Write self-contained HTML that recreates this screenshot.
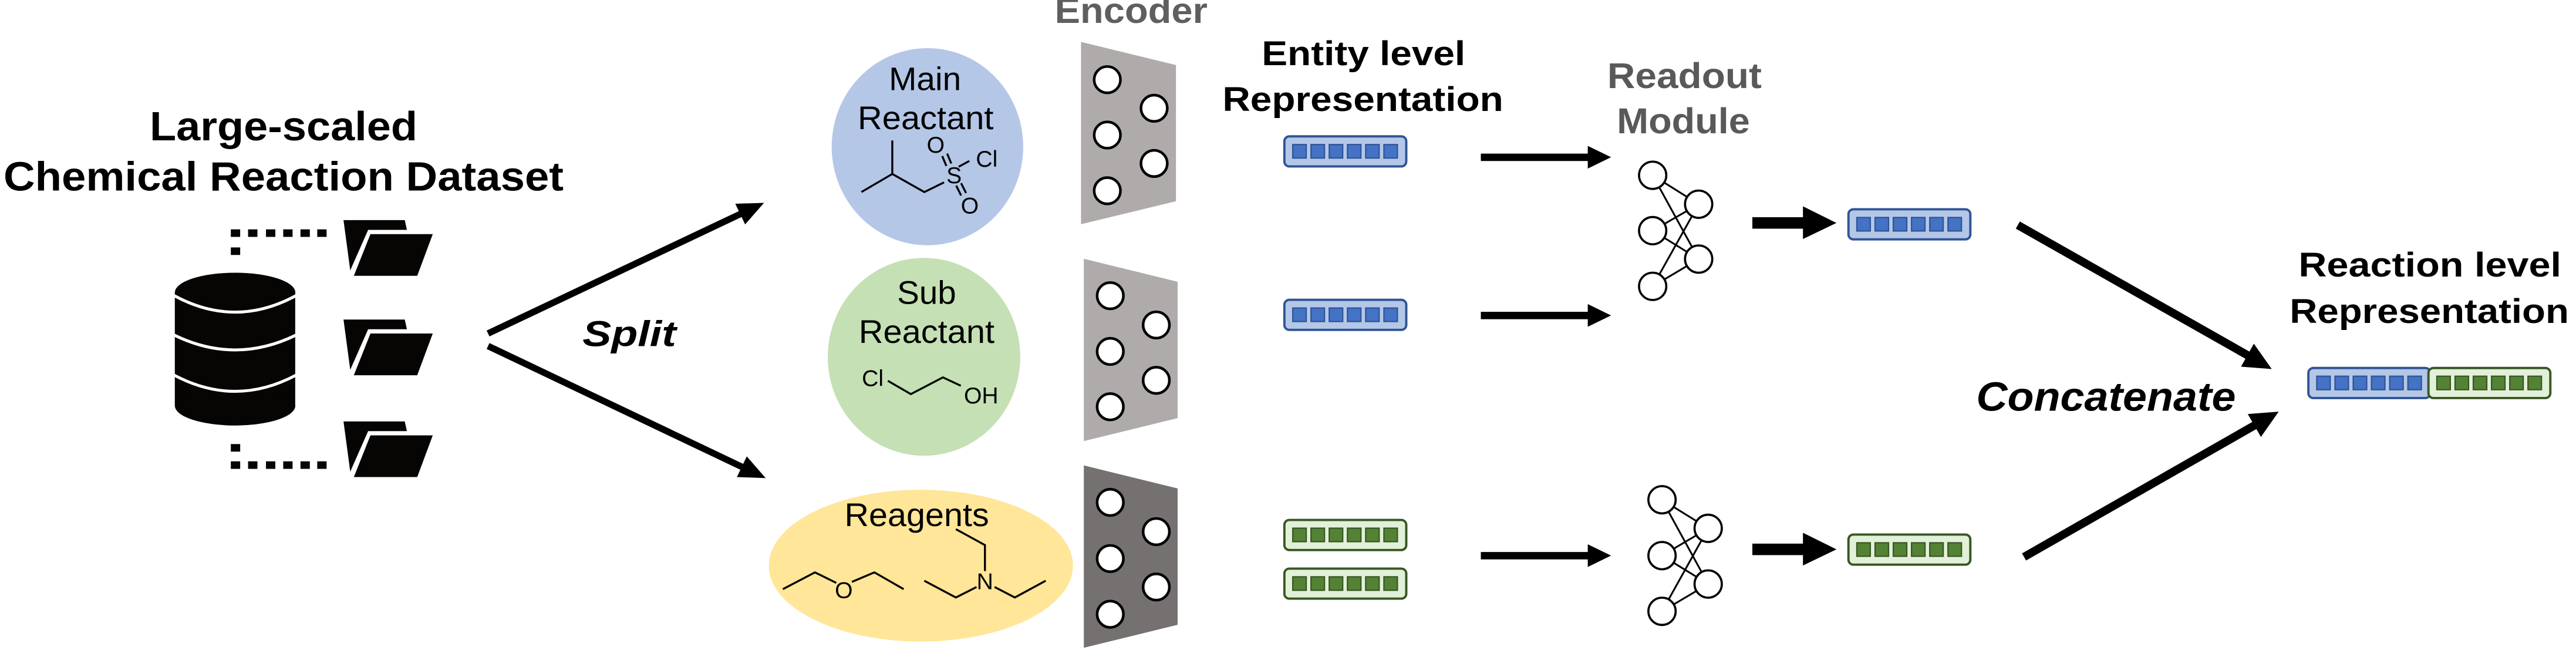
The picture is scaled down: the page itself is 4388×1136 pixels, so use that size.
<!DOCTYPE html>
<html><head><meta charset="utf-8"><style>
html,body{margin:0;padding:0;background:#fff;}
svg{display:block;}
text{font-family:"Liberation Sans",Arial,sans-serif;}
</style></head><body>
<svg width="4388" height="1136" viewBox="0 0 1568 406" xmlns="http://www.w3.org/2000/svg">
<defs>
<g id="bv">
<rect x="0" y="0" width="74.2" height="18.3" rx="3" fill="#b4c7e7" stroke="#2f5597" stroke-width="1.4"/>
<rect x="5.1" y="5" width="8.2" height="8.2" fill="#4472c4" stroke="#2f5597" stroke-width="0.8"/>
<rect x="16.2" y="5" width="8.2" height="8.2" fill="#4472c4" stroke="#2f5597" stroke-width="0.8"/>
<rect x="27.3" y="5" width="8.2" height="8.2" fill="#4472c4" stroke="#2f5597" stroke-width="0.8"/>
<rect x="38.4" y="5" width="8.2" height="8.2" fill="#4472c4" stroke="#2f5597" stroke-width="0.8"/>
<rect x="49.5" y="5" width="8.2" height="8.2" fill="#4472c4" stroke="#2f5597" stroke-width="0.8"/>
<rect x="60.6" y="5" width="8.2" height="8.2" fill="#4472c4" stroke="#2f5597" stroke-width="0.8"/>
</g>
<g id="gv">
<rect x="0" y="0" width="74.2" height="18.3" rx="3" fill="#e2f0d9" stroke="#385723" stroke-width="1.4"/>
<rect x="5.1" y="5" width="8.2" height="8.2" fill="#548235" stroke="#385723" stroke-width="0.8"/>
<rect x="16.2" y="5" width="8.2" height="8.2" fill="#548235" stroke="#385723" stroke-width="0.8"/>
<rect x="27.3" y="5" width="8.2" height="8.2" fill="#548235" stroke="#385723" stroke-width="0.8"/>
<rect x="38.4" y="5" width="8.2" height="8.2" fill="#548235" stroke="#385723" stroke-width="0.8"/>
<rect x="49.5" y="5" width="8.2" height="8.2" fill="#548235" stroke="#385723" stroke-width="0.8"/>
<rect x="60.6" y="5" width="8.2" height="8.2" fill="#548235" stroke="#385723" stroke-width="0.8"/>
</g>
<g id="folder">
<polygon points="209,134 246.3,134 247.6,139.9 224,139.9 213.1,164.6" fill="#070404"/>
<polygon points="225,141.9 264.2,141.9 254.3,168.5 214.4,168.5" fill="#070404" stroke="#fff" stroke-width="1.2"/>
</g>
</defs>

<!-- Title -->
<text x="172.5" y="85.5" font-size="25" font-weight="bold" text-anchor="middle" textLength="163" lengthAdjust="spacingAndGlyphs">Large-scaled</text>
<text x="172.5" y="116" font-size="25" font-weight="bold" text-anchor="middle" textLength="341" lengthAdjust="spacingAndGlyphs">Chemical Reaction Dataset</text>

<!-- Database -->
<rect x="106.3" y="178" width="73.3" height="69" fill="#070404"/>
<ellipse cx="143" cy="178" rx="36.65" ry="12" fill="#070404"/>
<ellipse cx="143" cy="247" rx="36.65" ry="12" fill="#070404"/>
<path d="M106,180 Q143,200 180,180" fill="none" stroke="#fff" stroke-width="1.8"/>
<path d="M106,204 Q143,222 180,204" fill="none" stroke="#fff" stroke-width="1.8"/>
<path d="M106,228.4 Q143,248 180,228.4" fill="none" stroke="#fff" stroke-width="1.8"/>

<!-- dots -->
<g fill="#070404">
<rect x="140.4" y="139.6" width="5.7" height="4.6"/><rect x="150.9" y="139.6" width="5.7" height="4.6"/><rect x="161.8" y="139.6" width="5.7" height="4.6"/><rect x="172.3" y="139.6" width="5.7" height="4.6"/><rect x="182.8" y="139.6" width="5.7" height="4.6"/><rect x="193" y="139.6" width="5.7" height="4.6"/>
<rect x="140.4" y="150.6" width="5.7" height="4.6"/>
<rect x="140.4" y="270.3" width="5.7" height="4.6"/>
<rect x="140.4" y="280.8" width="5.7" height="4.6"/><rect x="150.9" y="280.8" width="5.7" height="4.6"/><rect x="161.8" y="280.8" width="5.7" height="4.6"/><rect x="172.3" y="280.8" width="5.7" height="4.6"/><rect x="182.8" y="280.8" width="5.7" height="4.6"/><rect x="193" y="280.8" width="5.7" height="4.6"/>
</g>

<!-- folders -->
<use href="#folder"/>
<use href="#folder" transform="translate(0,60.5)"/>
<use href="#folder" transform="translate(0,122.5)"/>

<!-- Split arrows -->
<line x1="297" y1="203" x2="452" y2="129.6" stroke="#000" stroke-width="4"/>
<polygon points="465,123.5 453.5,136.6 447.5,124" fill="#000"/>
<line x1="297" y1="210.6" x2="452" y2="284.4" stroke="#000" stroke-width="4"/>
<polygon points="466,291 448.5,290.4 454.5,277.8" fill="#000"/>
<text x="383" y="210.6" font-size="22" font-weight="bold" font-style="italic" text-anchor="middle" textLength="57" lengthAdjust="spacingAndGlyphs">Split</text>

<!-- Main reactant -->
<ellipse cx="564.5" cy="89.3" rx="58.3" ry="60" fill="#b4c7e7"/>
<text x="563" y="54.9" font-size="20" text-anchor="middle" textLength="44" lengthAdjust="spacingAndGlyphs">Main</text>
<text x="563.4" y="78.6" font-size="20" text-anchor="middle" textLength="82.7" lengthAdjust="spacingAndGlyphs">Reactant</text>
<g fill="none" stroke="#000" stroke-width="1.2">
<polyline points="524.3,116.9 543.1,105.9 543.1,85.5"/>
<polyline points="543.1,105.9 562.6,116.9 574.6,111"/>
<line x1="583.5" y1="101.5" x2="590" y2="98"/>
<line x1="573.5" y1="95" x2="576" y2="101"/>
<line x1="576.5" y1="93.5" x2="579" y2="99.5"/>
<line x1="582" y1="113" x2="585" y2="119"/>
<line x1="585" y1="111.5" x2="588" y2="117.5"/>
</g>
<g font-size="14" text-anchor="middle">
<text x="569.5" y="93">O</text>
<text x="580.7" y="111.5">S</text>
<text x="600.6" y="101.5">Cl</text>
<text x="590.3" y="130">O</text>
</g>

<!-- Sub reactant -->
<ellipse cx="562.4" cy="217.2" rx="58.6" ry="60.2" fill="#c5e0b4"/>
<text x="564" y="185" font-size="20" text-anchor="middle" textLength="36" lengthAdjust="spacingAndGlyphs">Sub</text>
<text x="564" y="208.8" font-size="20" text-anchor="middle" textLength="82.7" lengthAdjust="spacingAndGlyphs">Reactant</text>
<polyline points="540.4,231.8 554.4,239.9 573.9,229.7 584.8,234.8" fill="none" stroke="#000" stroke-width="1.2"/>
<text x="531.2" y="235" font-size="14" text-anchor="middle">Cl</text>
<text x="597.2" y="245.5" font-size="14" text-anchor="middle">OH</text>

<!-- Reagents -->
<ellipse cx="560.5" cy="344.3" rx="92.6" ry="46.2" fill="#ffe699"/>
<text x="558" y="320.3" font-size="20" text-anchor="middle" textLength="88" lengthAdjust="spacingAndGlyphs">Reagents</text>
<g fill="none" stroke="#000" stroke-width="1.2">
<polyline points="476.5,358.6 496,348.4 509,354.8"/>
<polyline points="518.5,354.2 532.2,348.4 550,358.6"/>
<polyline points="562.6,353.5 581.8,363.7 594.4,357.3"/>
<polyline points="605.4,357.3 617.7,363.7 636.5,353.5"/>
<polyline points="599.5,347.6 599.5,331.8 581.8,322.1"/>
</g>
<text x="513.6" y="364" font-size="14" text-anchor="middle">O</text>
<text x="599.5" y="358.6" font-size="14" text-anchor="middle">N</text>

<!-- Encoder -->
<text x="688.5" y="14" font-size="22" font-weight="bold" fill="#5f5f5f" text-anchor="middle" textLength="93" lengthAdjust="spacingAndGlyphs">Encoder</text>
<polygon points="658,25.5 715.8,39.6 715.8,122.5 658,136.5" fill="#afabab"/>
<polygon points="659.7,157.5 716.8,171.5 716.8,254.5 659.7,268.5" fill="#afabab"/>
<polygon points="659.7,283.3 716.8,297.3 716.8,380.3 659.7,394.3" fill="#767171"/>
<g fill="#fff" stroke="#000" stroke-width="1.6">
<circle cx="674" cy="48.5" r="8"/><circle cx="674" cy="82.2" r="8"/><circle cx="674" cy="116.1" r="8"/>
<circle cx="702.5" cy="65.9" r="8"/><circle cx="702.5" cy="99.5" r="8"/>
<circle cx="675.8" cy="180" r="8"/><circle cx="675.8" cy="213.9" r="8"/><circle cx="675.8" cy="247.6" r="8"/>
<circle cx="703.8" cy="197.8" r="8"/><circle cx="703.8" cy="231.5" r="8"/>
<circle cx="675.8" cy="305.8" r="8"/><circle cx="675.8" cy="340" r="8"/><circle cx="675.8" cy="373.9" r="8"/>
<circle cx="703.8" cy="323.6" r="8"/><circle cx="703.8" cy="357.3" r="8"/>
</g>

<!-- Entity level -->
<text x="830" y="39.6" font-size="21" font-weight="bold" text-anchor="middle" textLength="124" lengthAdjust="spacingAndGlyphs">Entity level</text>
<text x="829.6" y="67.6" font-size="21" font-weight="bold" text-anchor="middle" textLength="171" lengthAdjust="spacingAndGlyphs">Representation</text>
<use href="#bv" x="781.8" y="83"/>
<use href="#bv" x="781.8" y="182.5"/>
<use href="#gv" x="781.8" y="316.5"/>
<use href="#gv" x="781.8" y="346.1"/>

<!-- thin arrows -->
<g fill="#000">
<rect x="901.4" y="93.5" width="66" height="4.5"/><polygon points="966.5,88.8 980.7,95.7 966.5,102.6"/>
<rect x="901.4" y="189.8" width="66" height="4.5"/><polygon points="966.5,185.1 980.7,192 966.5,198.9"/>
<rect x="901.4" y="336" width="66" height="4.5"/><polygon points="966.5,331.3 980.7,338.2 966.5,345.1"/>
</g>

<!-- Readout -->
<text x="1025.4" y="53.6" font-size="22" font-weight="bold" fill="#595959" text-anchor="middle" textLength="94" lengthAdjust="spacingAndGlyphs">Readout</text>
<text x="1024.7" y="81.2" font-size="22" font-weight="bold" fill="#595959" text-anchor="middle" textLength="81" lengthAdjust="spacingAndGlyphs">Module</text>
<g stroke="#000" stroke-width="1.1">
<line x1="1006" y1="106.7" x2="1034" y2="124.3"/><line x1="1006" y1="106.7" x2="1034" y2="157.7"/>
<line x1="1006" y1="140.4" x2="1034" y2="124.3"/><line x1="1006" y1="140.4" x2="1034" y2="157.7"/>
<line x1="1006" y1="174.3" x2="1034" y2="124.3"/><line x1="1006" y1="174.3" x2="1034" y2="157.7"/>
<line x1="1011.7" y1="304.2" x2="1039.8" y2="321.6"/><line x1="1011.7" y1="304.2" x2="1039.8" y2="355.5"/>
<line x1="1011.7" y1="338.2" x2="1039.8" y2="321.6"/><line x1="1011.7" y1="338.2" x2="1039.8" y2="355.5"/>
<line x1="1011.7" y1="372.1" x2="1039.8" y2="321.6"/><line x1="1011.7" y1="372.1" x2="1039.8" y2="355.5"/>
</g>
<g fill="#fff" stroke="#000" stroke-width="1.3">
<circle cx="1006" cy="106.7" r="8.3"/><circle cx="1006" cy="140.4" r="8.3"/><circle cx="1006" cy="174.3" r="8.3"/>
<circle cx="1034" cy="124.3" r="8.3"/><circle cx="1034" cy="157.7" r="8.3"/>
<circle cx="1011.7" cy="304.2" r="8.3"/><circle cx="1011.7" cy="338.2" r="8.3"/><circle cx="1011.7" cy="372.1" r="8.3"/>
<circle cx="1039.8" cy="321.6" r="8.3"/><circle cx="1039.8" cy="355.5" r="8.3"/>
</g>

<!-- thick arrows -->
<g fill="#000">
<rect x="1066.7" y="132.2" width="31" height="7"/><polygon points="1097.5,125.6 1117.9,135.7 1097.5,145.5"/>
<rect x="1066.7" y="330.9" width="31" height="7"/><polygon points="1097.5,324.3 1117.9,334.4 1097.5,344.2"/>
</g>
<use href="#bv" x="1125.2" y="127.4"/>
<use href="#gv" x="1125.2" y="325.4"/>

<!-- concat arrows -->
<line x1="1228.3" y1="137" x2="1369" y2="216.7" stroke="#000" stroke-width="5"/>
<polygon points="1382.9,224.6 1364.2,223.2 1372,209.2" fill="#000"/>
<line x1="1232.1" y1="339" x2="1373" y2="258.6" stroke="#000" stroke-width="5"/>
<polygon points="1387.1,250.6 1376.3,266 1368.3,252" fill="#000"/>
<text x="1282" y="250" font-size="25" font-weight="bold" font-style="italic" text-anchor="middle" textLength="158" lengthAdjust="spacingAndGlyphs">Concatenate</text>

<!-- Reaction level -->
<text x="1479.2" y="168.4" font-size="21" font-weight="bold" text-anchor="middle" textLength="160" lengthAdjust="spacingAndGlyphs">Reaction level</text>
<text x="1478.8" y="196.5" font-size="21" font-weight="bold" text-anchor="middle" textLength="170" lengthAdjust="spacingAndGlyphs">Representation</text>
<use href="#bv" x="1405.2" y="224"/>
<use href="#gv" x="1478.3" y="224"/>
</svg>
</body></html>
